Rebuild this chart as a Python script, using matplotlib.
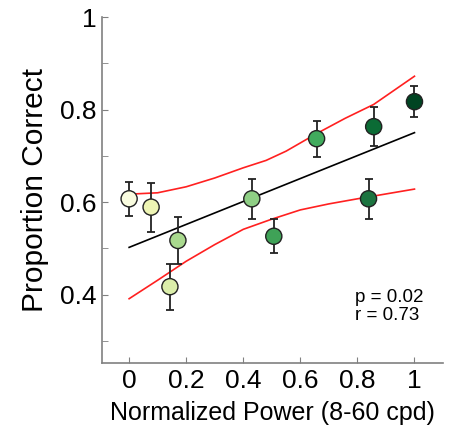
import matplotlib
matplotlib.use("Agg")
import matplotlib.pyplot as plt
import numpy as np

# data
power = [0.0, 0.077, 0.171, 0.143, 0.43, 0.507, 0.657, 0.857, 1.0, 0.839]
prop_correct = [0.607, 0.589, 0.517, 0.417, 0.607, 0.526, 0.737, 0.763, 0.817, 0.607]
prop_err = [0.037, 0.053, 0.05, 0.05, 0.043, 0.037, 0.039, 0.042, 0.033, 0.043]
point_colors = ['#fafde0', '#eef5b4', '#a9d98e', '#dbeeaa', '#8fcf85',
                '#3fa257', '#41ab5d', '#0b6b35', '#004422', '#1c7440']

fit_x = [0.0, 1.0]
fit_y = [0.502, 0.75]

upper_x = [0.0, 0.1, 0.2, 0.3, 0.4, 0.48, 0.55, 0.657, 0.757, 0.857, 1.0]
upper_y = [0.617, 0.62, 0.633, 0.652, 0.674, 0.69, 0.71, 0.748, 0.781, 0.811, 0.872]
lower_x = [0.0, 0.1, 0.2, 0.3, 0.4, 0.5, 0.6, 0.7, 0.8, 1.0]
lower_y = [0.391, 0.431, 0.472, 0.508, 0.541, 0.563, 0.583, 0.596, 0.607, 0.628]

plt.rcParams['font.family'] = ['Liberation Sans', 'DejaVu Sans']

fig = plt.figure(figsize=(4.54, 4.32), dpi=100)
ax = fig.add_axes([0.2247, 0.1597, 0.7511, 0.8009])

ax.plot(upper_x, upper_y, color='#ff2020', lw=1.2, zorder=2)
ax.plot(lower_x, lower_y, color='#ff2020', lw=1.2, zorder=2)
ax.plot(fit_x, fit_y, color='black', lw=1.2, zorder=2)

ax.errorbar(power, prop_correct, yerr=prop_err, fmt='none',
            ecolor='#222222', elinewidth=1.3, capsize=3.2, capthick=1.3, zorder=3)
ax.scatter(power, prop_correct, s=135, c=point_colors,
           edgecolors='#222222', linewidths=1.0, zorder=4)

ax.text(0.79, 0.394, 'p = 0.02', fontsize=13.5, ha='left', va='center')
ax.text(0.79, 0.355, 'r = 0.73', fontsize=13.5, ha='left', va='center')

ax.set_xlim(-0.095, 1.1)
ax.set_ylim(0.252, 1.0)
ax.set_xticks(np.arange(0, 1.01, 0.2))
ax.set_xticklabels(['0', '0.2', '0.4', '0.6', '0.8', '1'])
ax.set_yticks([0.4, 0.6, 0.8, 1.0])
ax.set_yticklabels(['0.4', '0.6', '0.8', '1'])
ax.set_yticks([0.3, 0.5, 0.7, 0.9], minor=True)

for side in ['top', 'right']:
    ax.spines[side].set_visible(False)
for side in ['left', 'bottom']:
    ax.spines[side].set_color('#808080')
    ax.spines[side].set_linewidth(1.2)

ax.tick_params(which='both', direction='in', length=4, color='#808080',
               labelsize=19, pad=4)
ax.set_xlabel('Normalized Power (8-60 cpd)', fontsize=18, labelpad=6)
ax.set_ylabel('Proportion Correct', fontsize=21.5, labelpad=8)

fig.savefig('out.png', dpi=100)
